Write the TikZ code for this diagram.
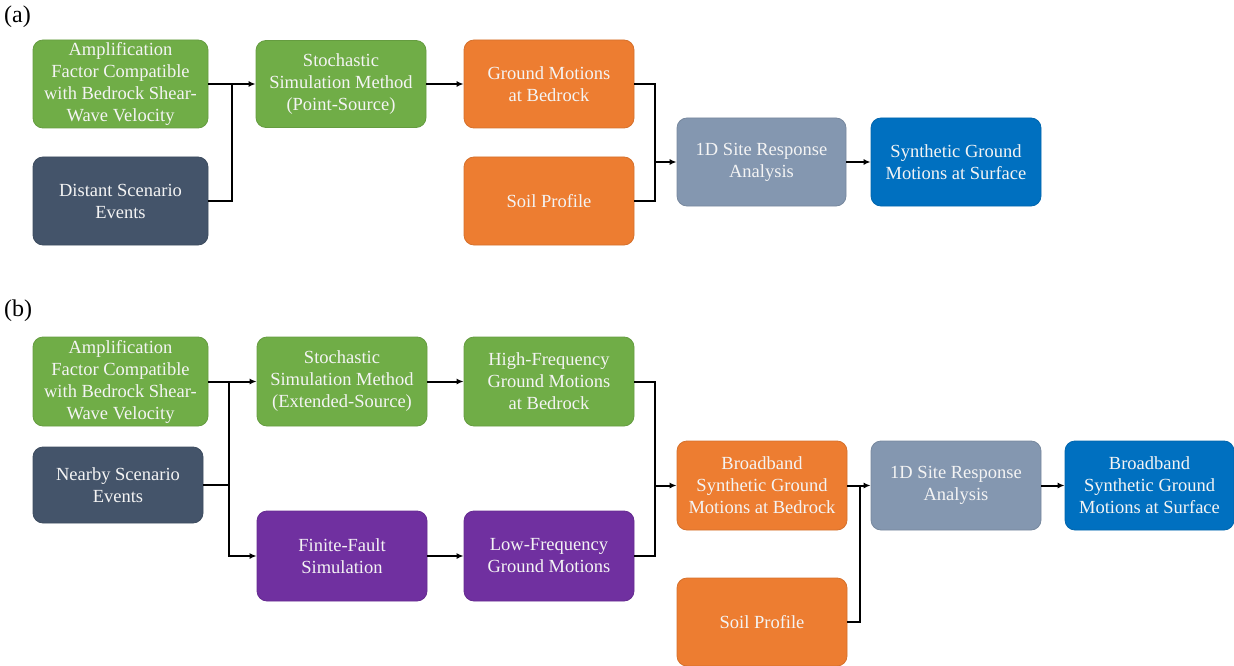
\documentclass[tikz,border=0pt]{standalone}
\usepackage{fontspec}
\setmainfont{Liberation Serif}
\usetikzlibrary{arrows.meta}
\definecolor{cgreen}{HTML}{70AD47}
\definecolor{cslate}{HTML}{44546A}
\definecolor{corange}{HTML}{ED7D31}
\definecolor{cgray}{HTML}{8497B0}
\definecolor{cblue}{HTML}{0070C0}
\definecolor{cpurple}{HTML}{7030A0}
\definecolor{ctext}{HTML}{F4F4F4}
\tikzset{
  box/.style={rounded corners=10pt, minimum width=170pt, minimum height=88pt,
    inner sep=0pt, align=center, text=ctext, line width=0.8pt,
    font=\fontsize{18.5}{22}\selectfont},
  gbox/.style={box, fill=cgreen, draw=cgreen!90!black},
  sbox/.style={box, fill=cslate, draw=cslate!90!black},
  obox/.style={box, fill=corange, draw=corange!90!black},
  ybox/.style={box, fill=cgray, draw=cgray!90!black},
  bbox/.style={box, fill=cblue, draw=cblue!90!black},
  pbox/.style={box, fill=cpurple, draw=cpurple!90!black},
  conn/.style={line width=2pt, black},
  arr/.style={conn, -{Latex[length=7pt,width=6pt]}},
  lab/.style={anchor=west, inner sep=0pt, font=\fontsize{24}{28}\selectfont}
}
\begin{document}
\begin{tikzpicture}[x=1pt,y=-1pt]
\useasboundingbox (0,0) rectangle (1234,666);
% labels
\node[lab] (la) at (4,17) {(a)};
\node[lab] (lb) at (4,311) {(b)};
% ---------- (a) ----------
\node[gbox, minimum width=175pt] (a1) at (120.5,84) {Amplification\\Factor Compatible\\with Bedrock Shear-\\Wave Velocity};
\node[sbox, minimum width=175pt] (a2) at (120.5,201) {Distant Scenario\\Events};
\node[gbox, minimum height=87pt] (a3) at (341,84) {Stochastic\\Simulation Method\\(Point-Source)};
\node[obox] (a4) at (549,84) {Ground Motions\\at Bedrock};
\node[obox] (a5) at (549,201) {Soil Profile};
\node[ybox, minimum width=169pt] (a6) at (761.5,162) {1D Site Response\\Analysis};
\node[bbox] (a7) at (956,162) {Synthetic Ground\\Motions at Surface};
\coordinate (ja) at (232,84);
\coordinate (jb) at (655,162);
\draw[arr] (a1.east) -- (a3.west);
\draw[conn] (a2.east) -| (ja);
\draw[arr] (a3.east) -- (a4.west);
\draw[conn] (a4.east) -| (jb);
\draw[conn] (a5.east) -| (jb);
\draw[arr] (jb) -- (a6.west);
\draw[arr] (a6.east) -- (a7.west);
% ---------- (b) ----------
\node[gbox, minimum width=175pt, minimum height=89pt] (b1) at (120.5,381.5) {Amplification\\Factor Compatible\\with Bedrock Shear-\\Wave Velocity};
\node[sbox, minimum height=76pt] (b2) at (118,485) {Nearby Scenario\\Events};
\node[gbox, minimum height=89pt] (b3) at (342,381.5) {Stochastic\\Simulation Method\\(Extended-Source)};
\node[pbox, minimum height=90pt] (b4) at (342,556) {Finite-Fault\\Simulation};
\node[gbox, minimum height=89pt] (b5) at (549,381.5) {High-Frequency\\Ground Motions\\at Bedrock};
\node[pbox, minimum height=90pt] (b6) at (549,556) {Low-Frequency\\Ground Motions};
\node[obox, minimum height=89pt] (b7) at (762,485.5) {Broadband\\Synthetic Ground\\Motions at Bedrock};
\node[obox] (b9) at (762,622) {Soil Profile};
\node[ybox, minimum height=89pt] (b8) at (956,485.5) {1D Site Response\\Analysis};
\node[bbox, minimum width=169pt, minimum height=89pt] (b10) at (1149.5,485.5) {Broadband\\Synthetic Ground\\Motions at Surface};
\coordinate (jc) at (229,381.5);
\coordinate (jd) at (655,485.5);
\coordinate (je) at (860,485.5);
\draw[arr] (b1.east) -- (b3.west);
\draw[conn] (b2.east) -| (jc);
\draw[arr] (jc) |- (b4.west);
\draw[arr] (b3.east) -- (b5.west);
\draw[arr] (b4.east) -- (b6.west);
\draw[conn] (b5.east) -| (jd);
\draw[conn] (b6.east) -| (jd);
\draw[arr] (jd) -- (b7.west);
\draw[arr] (b7.east) -- (b8.west);
\draw[conn] (b9.east) -| (je);
\draw[arr] (b8.east) -- (b10.west);
\end{tikzpicture}
\end{document}
